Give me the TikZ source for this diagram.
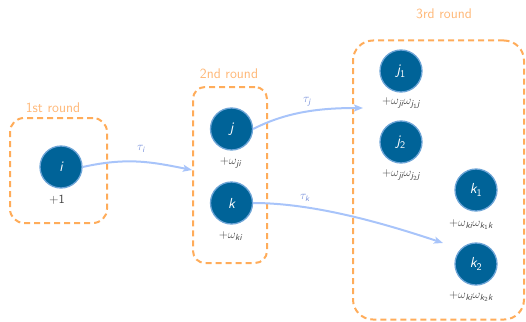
\documentclass[tikz,border=0pt]{standalone}
\usepackage{amsmath}
\usetikzlibrary{arrows.meta}

\definecolor{nodefill}{RGB}{0,99,152}
\definecolor{noderim}{RGB}{110,165,215}
\definecolor{roundline}{RGB}{255,172,90}
\definecolor{roundtext}{RGB}{255,183,118}
\definecolor{flow}{RGB}{168,196,250}
\definecolor{flowtext}{RGB}{118,143,218}
\definecolor{weighttext}{RGB}{65,65,65}

\newcommand\mv[1]{\textit{#1}}

\tikzset{
  agent/.style={circle, fill=nodefill, draw=noderim, line width=1.3pt,
    minimum size=42pt, inner sep=0pt, text=white,
    font=\sffamily\fontsize{14.5}{16}\selectfont},
  roundbox/.style={draw=roundline, line width=2pt, dash pattern=on 6pt off 4pt,
    rounded corners=14pt, inner sep=0pt},
  roundtitle/.style={text=roundtext, font=\sffamily\fontsize{14}{16}\selectfont},
  weight/.style={text=weighttext, font=\sffamily\fontsize{12.5}{14}\selectfont, inner sep=0pt},
  flowarrow/.style={draw=flow, line width=2pt, -{Stealth[length=9pt,width=7pt,inset=2pt]}},
  flowlabel/.style={text=flowtext, font=\sffamily\fontsize{12}{14}\selectfont, inner sep=0pt},
}

\begin{document}
\begin{tikzpicture}[x=1pt, y=-1pt]
  \useasboundingbox (0,0) rectangle (526,321);

  % rounds
  \node[roundbox, minimum width=97pt, minimum height=105pt] (box1) at (58.5,170.5) {};
  \node[roundbox, minimum width=74pt, minimum height=176pt, rounded corners=12pt] (box2) at (230,175) {};
  \node[roundbox, minimum width=171pt, minimum height=279pt, rounded corners=20pt] (box3) at (438.5,180) {};

  \node[roundtitle] (t1) at (53,108) {1st round};
  \node[roundtitle] (t2) at (229,74) {2nd round};
  \node[roundtitle] (t3) at (444,14) {3rd round};

  % agents
  \node[agent] (i)  at (61,167)  {$\mv{i}$};
  \node[agent] (j)  at (231.5,129) {$\mv{j}$};
  \node[agent] (k)  at (231.5,203) {$\mv{k}$};
  \node[agent] (j1) at (401,71)  {$\mv{j}_{\textsf{1}}$};
  \node[agent] (j2) at (401,142) {$\mv{j}_{\textsf{2}}$};
  \node[agent] (k1) at (476,190) {$\mv{k}_{\textsf{1}}$};
  \node[agent] (k2) at (476,264) {$\mv{k}_{\textsf{2}}$};

  % accumulated weights
  \node[weight] (wi)  at (57,200)  {\textsf{+1}};
  \node[weight] (wj)  at (230.5,163) {$+\omega_{\mv{ji}}$};
  \node[weight] (wk)  at (230.5,236) {$+\omega_{\mv{ki}}$};
  \node[weight] (wj1) at (401,103) {$+\omega_{\mv{ji}}\omega_{\mv{j}_{\textsf{1}}\mv{j}}$};
  \node[weight] (wj2) at (401,175) {$+\omega_{\mv{ji}}\omega_{\mv{j}_{\textsf{2}}\mv{j}}$};
  \node[weight] (wk1) at (471,225) {$+\omega_{\mv{ki}}\omega_{\mv{k}_{\textsf{1}}\mv{k}}$};
  \node[weight] (wk2) at (471,297) {$+\omega_{\mv{ki}}\omega_{\mv{k}_{\textsf{2}}\mv{k}}$};

  % messages
  \coordinate (jin) at (363,108);
  \coordinate (kin) at (443,243);

  \draw[flowarrow] (i.east) .. controls +(45,-10) and +(-40,-8) .. ([yshift=5pt]box2.west);
  \draw[flowarrow] (j.east) .. controls +(35,-18) and +(-40,0) .. (jin);
  \draw[flowarrow] (k.east) .. controls +(60,0) and +(-60,-20) .. (kin);

  \node[flowlabel] (ti) at (141,149) {$\tau_{\mv{i}}$};
  \node[flowlabel] (tj) at (307,102) {$\tau_{\mv{j}}$};
  \node[flowlabel] (tk) at (305,198) {$\tau_{\mv{k}}$};
\end{tikzpicture}
\end{document}
